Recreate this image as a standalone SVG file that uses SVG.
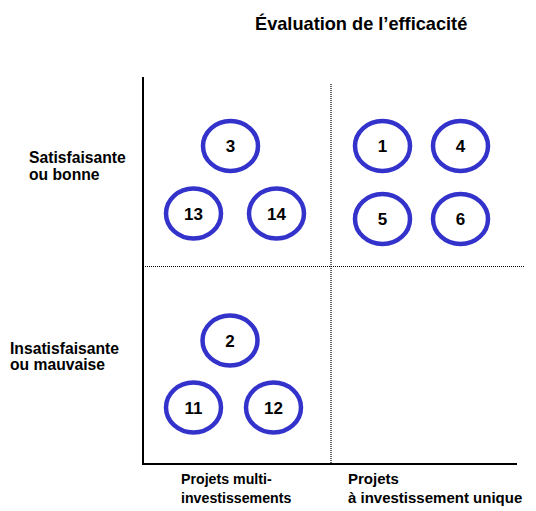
<svg xmlns="http://www.w3.org/2000/svg" width="536" height="511" viewBox="0 0 536 511">
<style>
text{font-family:"Liberation Sans",Arial,sans-serif;font-weight:bold;fill:#000}
.lbl{font-size:15.7px}
.bot{font-size:14.2px}
.bot2{font-size:15px}
.num{font-size:17px;text-anchor:middle}
.ttl{font-size:18.2px}
.node ellipse{fill:#fff;stroke:#3333cc;stroke-width:4.5}
.axis{stroke:#000;stroke-width:2;fill:none}
.dot{stroke:#000;stroke-width:1.2;stroke-dasharray:1 1;fill:none}
</style>
<rect width="536" height="511" fill="#fff"/>
<text class="ttl" x="255" y="29.5">Évaluation de l’efficacité</text>
<g id="connectors">
<line class="dot" x1="331" y1="84" x2="331" y2="464"/>
<line class="dot" x1="143" y1="266.5" x2="525" y2="266.5"/>
<line class="axis" x1="143" y1="77" x2="143" y2="465"/>
<line class="axis" x1="142" y1="464" x2="517" y2="464"/>
</g>
<text class="lbl" x="29" y="163">Satisfaisante</text>
<text class="lbl" x="29" y="179.5">ou bonne</text>
<text class="lbl" x="10" y="354">Insatisfaisante</text>
<text class="lbl" x="10" y="370">ou mauvaise</text>
<text class="bot" x="181" y="484">Projets multi-</text>
<text class="bot" x="181" y="503">investissements</text>
<text class="bot2" x="348" y="484">Projets</text>
<text class="bot2" x="348" y="503">à investissement unique</text>
<g id="n3" class="node"><ellipse cx="230.5" cy="146" rx="27.5" ry="25"/><text class="num" x="230.5" y="152">3</text></g>
<g id="n13" class="node"><ellipse cx="193.5" cy="213.5" rx="27.5" ry="25"/><text class="num" x="193.5" y="219.5">13</text></g>
<g id="n14" class="node"><ellipse cx="276.5" cy="213.5" rx="27.5" ry="25"/><text class="num" x="276.5" y="219.5">14</text></g>
<g id="n1" class="node"><ellipse cx="382.5" cy="146" rx="27.5" ry="25"/><text class="num" x="382.5" y="152">1</text></g>
<g id="n4" class="node"><ellipse cx="460.5" cy="146" rx="27.5" ry="25"/><text class="num" x="460.5" y="152">4</text></g>
<g id="n5" class="node"><ellipse cx="382.5" cy="219" rx="27.5" ry="25"/><text class="num" x="382.5" y="225">5</text></g>
<g id="n6" class="node"><ellipse cx="460.5" cy="219" rx="27.5" ry="25"/><text class="num" x="460.5" y="225">6</text></g>
<g id="n2" class="node"><ellipse cx="230" cy="340.5" rx="27.5" ry="25"/><text class="num" x="230" y="346.5">2</text></g>
<g id="n11" class="node"><ellipse cx="193.5" cy="407.5" rx="27.5" ry="25"/><text class="num" x="193.5" y="413.5">11</text></g>
<g id="n12" class="node"><ellipse cx="273.5" cy="407.5" rx="27.5" ry="25"/><text class="num" x="273.5" y="413.5">12</text></g>
</svg>
